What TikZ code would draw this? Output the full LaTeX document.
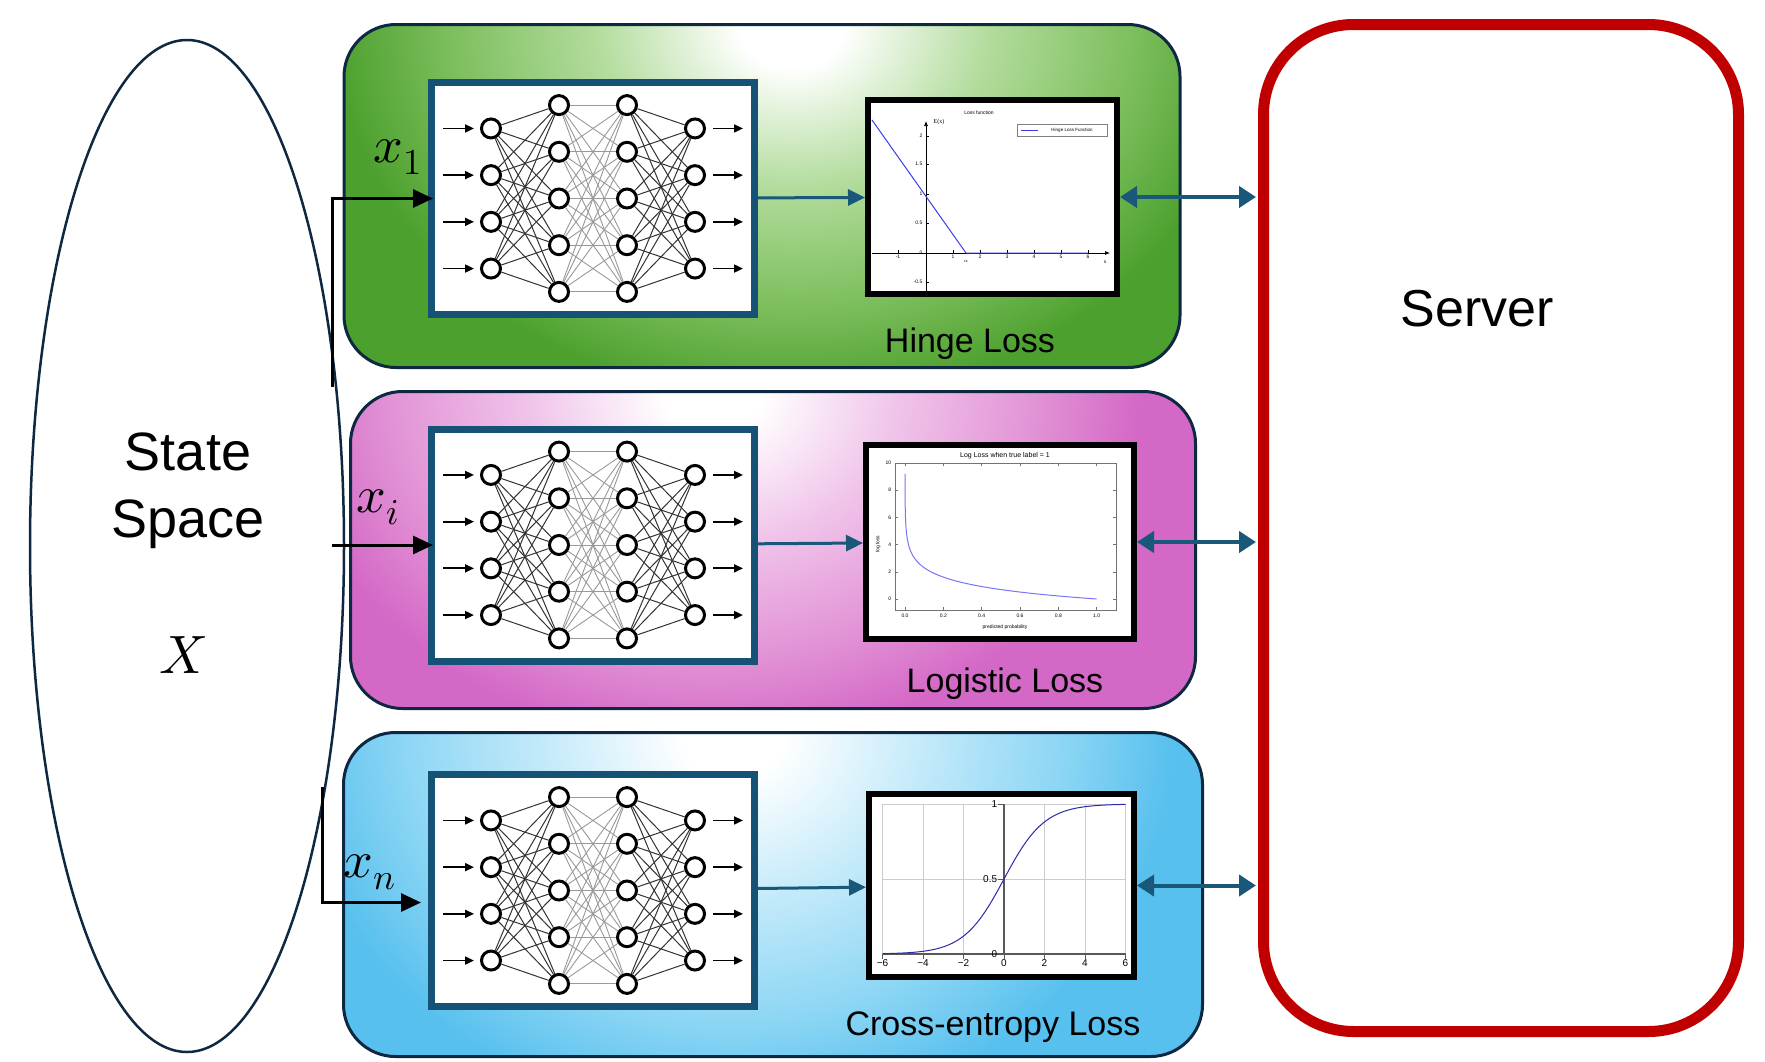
\documentclass[tikz,border=0pt]{standalone}
\usepackage{unicode-math}
\setmainfont{Liberation Sans}
\newfontfamily\plotserif{Liberation Serif}
\usetikzlibrary{arrows.meta, positioning, shapes.geometric}
\definecolor{panelline}{RGB}{14,40,65}
\definecolor{netblue}{RGB}{22,82,118}
\definecolor{linkteal}{RGB}{26,88,122}
\definecolor{serverred}{RGB}{192,0,0}
\definecolor{curveblue}{RGB}{60,60,240}
\definecolor{greenlight}{RGB}{178,220,156}
\definecolor{greenmid}{RGB}{124,190,92}
\definecolor{greendark}{RGB}{76,160,46}
\definecolor{pinklight}{RGB}{240,196,234}
\definecolor{pinkmid}{RGB}{226,148,214}
\definecolor{pinkdark}{RGB}{212,104,198}
\definecolor{bluelight}{RGB}{196,234,250}
\definecolor{bluemid}{RGB}{140,214,244}
\definecolor{bluedark}{RGB}{88,192,238}
\colorlet{glowlight}{greenlight}
\colorlet{glowmid}{greenmid}
\colorlet{glowdark}{greendark}
\pgfdeclareradialshading[glowlight,glowmid,glowdark]{glow}{\pgfpointorigin}{%
  color(0bp)=(white); color(2.5bp)=(white); color(9.5bp)=(glowlight);
  color(16.5bp)=(glowmid); color(22bp)=(glowdark); color(50bp)=(glowdark)}
\tikzset{tint/.code={\colorlet{glowlight}{#1light}\colorlet{glowmid}{#1mid}\colorlet{glowdark}{#1dark}},
  glowat/.style n args={3}{path picture={\shade[shading=glow] ([xshift=#1]path picture bounding box.north) ellipse [x radius=#2, y radius=#3];}}}
\def\netsep{46.7}
\newcommand{\drawnet}[1]{%
  \begin{scope}[shift={(#1.center)}]
    \foreach \i in {1,...,4} {
      \node[neuron] (#1-in\i) at (-102,{(\i-2.5)*\netsep}) {};
      \node[neuron] (#1-out\i) at (102,{(\i-2.5)*\netsep}) {};
    }
    \foreach \j in {1,...,5} {
      \node[neuron] (#1-ha\j) at (-34,{(\j-3)*\netsep}) {};
      \node[neuron] (#1-hb\j) at (34,{(\j-3)*\netsep}) {};
    }
    \foreach \i in {1,...,4} {
      \draw[netarrow, shorten >=6pt] (#1-in\i) ++(-48,0) -- (#1-in\i);
      \draw[netarrow, shorten <=7pt] (#1-out\i) -- ++(48,0);
      \foreach \j in {1,...,5} {
        \draw[dark link] (#1-in\i) -- (#1-ha\j);
        \draw[dark link] (#1-hb\j) -- (#1-out\i);
      }
    }
    \foreach \j in {1,...,5}
      \foreach \k in {1,...,5}
        \draw[light link] (#1-ha\j) -- (#1-hb\k);
  \end{scope}}

\begin{document}
\begin{tikzpicture}[x=1pt, y=-1pt, thick]
    \tikzstyle{panel}=[draw=panelline, line width=3pt, rounded corners=52pt, fill=glowdark, inner sep=0pt]
    \tikzstyle{netbox}=[draw=netblue, line width=7pt, fill=white, minimum width=323pt, minimum height=232pt, inner sep=0pt]
    \tikzstyle{plotbox}=[draw=black, line width=6pt, fill=white, inner sep=0pt]
    \tikzstyle{neuron}=[circle, draw=black, fill=white, line width=3pt, minimum size=19pt, inner sep=0pt]
    \tikzstyle{dark link}=[black!80, line width=1pt]
    \tikzstyle{light link}=[black!40, line width=0.9pt]
    \tikzstyle{netarrow}=[-{Triangle[length=9pt,width=8pt]}, line width=1.8pt, black]
    \tikzstyle{feed}=[-{Triangle[length=20pt,width=18pt]}, line width=3pt, black]
    \tikzstyle{toloss}=[-{Triangle[length=17pt,width=16pt]}, line width=3pt, linkteal]
    \tikzstyle{toserver}=[{Triangle[length=17pt,width=21pt]}-{Triangle[length=17pt,width=21pt]}, line width=4pt, linkteal]
    \tikzstyle{loss}=[font=\fontsize{34}{40}\selectfont, anchor=base, inner sep=0pt]
    \tikzstyle{inlabel}=[font=\fontsize{52}{54}\selectfont, anchor=base west, inner sep=0pt]
    \tikzstyle{tick}=[font=\fontsize{5}{6}\selectfont, inner sep=0.5pt]

    \useasboundingbox (0,0) rectangle (1765,1061);

    % client panels
    \node[tint=green, panel, glowat={30pt}{520pt}{430pt}, minimum width=836pt, minimum height=343pt] (hingepanel) at (762,196) {};
    \node[tint=pink, panel, glowat={-60pt}{485pt}{400pt}, minimum width=845pt, minimum height=317pt] (logpanel) at (773,550) {};
    \node[tint=blue, panel, glowat={-40pt}{500pt}{440pt}, minimum width=859pt, minimum height=324pt] (xentpanel) at (773,894.5) {};

    % server and state space
    \node[draw=serverred, line width=11pt, rounded corners=90pt, minimum width=475pt, minimum height=1007pt, inner sep=0pt] (server) at (1501,528) {};
    \node[font=\fontsize{52}{60}\selectfont, anchor=base, inner sep=0pt] (servername) at (1477,326) {Server};
    \node[ellipse, draw=panelline, line width=2.5pt, minimum width=314pt, minimum height=1012pt, inner sep=0pt] (space) at (187,546) {};
    \node[font=\fontsize{54}{67}\selectfont, align=center, inner sep=0pt] (spacename) at (188,491) {State\\Space};
    \node[font=\fontsize{54}{60}\selectfont, anchor=base, inner sep=0pt] (spacesym) at (183,673) {$X$};

    % local networks
    \node[netbox] (net1) at (593,198.5) {};
    \node[netbox] (neti) at (593,545) {};
    \node[netbox] (netn) at (593,890.5) {};
    \foreach \n in {net1,neti,netn} {
      \drawnet{\n}
    }

    % loss plots
    \node[plotbox, minimum width=249pt, minimum height=194pt] (plot1) at (992.5,197) {};
    \node[plotbox, minimum width=268pt, minimum height=194pt] (ploti) at (1000,542) {};
    \node[plotbox, minimum width=265pt, minimum height=183pt] (plotn) at (1001.5,885.5) {};

    % hinge
    \node[tick] (hingetitle) at (979,113) {Loss function};
    \draw[line width=0.7pt, -{Latex[length=5pt,width=4pt]}] (872,253) -- (1110,253);
    \draw[line width=0.7pt, -{Latex[length=5pt,width=4pt]}] (926,292) -- (926,121);
    \foreach \v/\t [count=\c] in {898/-1,953/1,980/2,1007/3,1034/4,1061/5,1088/6}
      \draw[line width=0.4pt] (\v,253) -- (\v,250) node[tick, below=4pt] (hx\c) {\t};
    \foreach \w/\t [count=\c] in {136/2,164/1.5,194/1,223/0.5,253/0,282/-0.5}
      \draw[line width=0.4pt] (926,\w) -- (929,\w) node[tick, left=6pt] (hy\c) {\t};
    \draw[curveblue, line width=1pt] (872,120) -- (966,253) -- (1088,253);
    \node[tick] (alpha) at (966,261) {$\alpha$};
    \node[tick] (hxlab) at (1105,262) {x};
    \node[tick, font=\plotserif\fontsize{6}{7}\selectfont] (hylab) at (939,122) {E(x)};
    \draw[black!50, line width=0.5pt] (1017,124) rectangle (1107,136);
    \draw[curveblue, line width=1pt] (1021,130) -- (1038,130);
    \node[font=\fontsize{4.5}{5}\selectfont, inner sep=0pt] (hlegend) at (1072,130) {Hinge Loss Function};

    % logistic
    \node[tick, font=\fontsize{7}{8}\selectfont] (logtitle) at (1005,456) {Log Loss when true label = 1};
    \draw[black!55, line width=0.8pt] (895,463) rectangle (1116,610);
    \foreach \t [count=\c] in {0,2,...,10} {
      \draw[black!55, line width=0.5pt] (895,{599-13.6*\t}) -- (898,{599-13.6*\t}) (1116,{599-13.6*\t}) -- (1113,{599-13.6*\t});
      \node[tick, anchor=east] (ly\c) at (892,{599-13.6*\t}) {\t};
    }
    \foreach \t [count=\c] in {0.0,0.2,0.4,0.6,0.8,1.0} {
      \draw[black!55, line width=0.5pt] ({905+191.7*\t},610) -- ({905+191.7*\t},607) ({905+191.7*\t},463) -- ({905+191.7*\t},466);
      \node[tick, anchor=north] (lx\c) at ({905+191.7*\t},613) {\t};
    }
    \node[tick, rotate=90] (logylab) at (878,544) {log loss};
    \node[tick] (logxlab) at (1005,627) {predicted probability};
    \draw[curveblue!70, line width=1pt] plot[domain=0:9.2, samples=90, variable=\s] ({905+191.7*exp(-\s)},{599-13.6*\s});

    % sigmoid
    \foreach \v in {-6,-4,-2,2,4,6}
      \draw[black!20, line width=1pt] ({1004+20.25*\v},804) -- ({1004+20.25*\v},954);
    \foreach \w in {804,879}
      \draw[black!20, line width=1pt] (883,\w) -- (1126,\w);
    \draw[black!65, line width=1.2pt] (1004,804) -- (1004,954) (883,954) -- (1126,954);
    \foreach \v/\t [count=\c] in {-6/−6,-4/−4,-2/−2,0/0,2/2,4/4,6/6} {
      \draw[black!65, line width=1pt] ({1004+20.25*\v},954) -- ({1004+20.25*\v},959);
      \node[tick, font=\fontsize{10}{11}\selectfont, anchor=north] (sx\c) at ({1004+20.25*\v},959) {\t};
    }
    \foreach \w/\t [count=\c] in {804/1,879/0.5,954/0} {
      \draw[black!65, line width=1pt] (998,\w) -- (1004,\w);
      \node[tick, font=\fontsize{10}{11}\selectfont, anchor=east] (sy\c) at (998,\w) {\t};
    }
    \draw[curveblue!70!black, line width=1pt] plot[domain=-6:6, samples=60, variable=\s] ({1004+20.25*\s},{954-150/(1+exp(-\s))});

    % loss names
    \node[loss] (hingename) at (970,352) {Hinge Loss};
    \node[loss] (logname) at (1005,692) {Logistic Loss};
    \node[loss] (xentname) at (993,1035) {Cross-entropy Loss};

    % connectors
    \draw[toloss] (net1) -- (plot1);
    \draw[toloss] (neti) -- (ploti);
    \draw[toloss] (netn) -- (plotn);
    \foreach \p in {plot1,ploti,plotn}
      \draw[toserver, shorten >=2pt] (\p.east) -- (\p.east -| server.west);

    \coordinate (x1start) at (332,387);
    \coordinate (xistart) at (332,545);
    \coordinate (xnstart) at (322,787);
    \draw[feed, shorten >=-5pt] (x1start) |- (net1.west);
    \draw[feed, shorten >=-5pt] (xistart) -- (neti.west);
    \draw[feed, shorten >=7pt] (xnstart) |- ([yshift=-12pt]netn.west);
    \node[inlabel] (x1) at (373,162) {$x_1$};
    \node[inlabel] (xi) at (356,512) {$x_i$};
    \node[inlabel] (xn) at (343,877) {$x_n$};
\end{tikzpicture}
\end{document}
